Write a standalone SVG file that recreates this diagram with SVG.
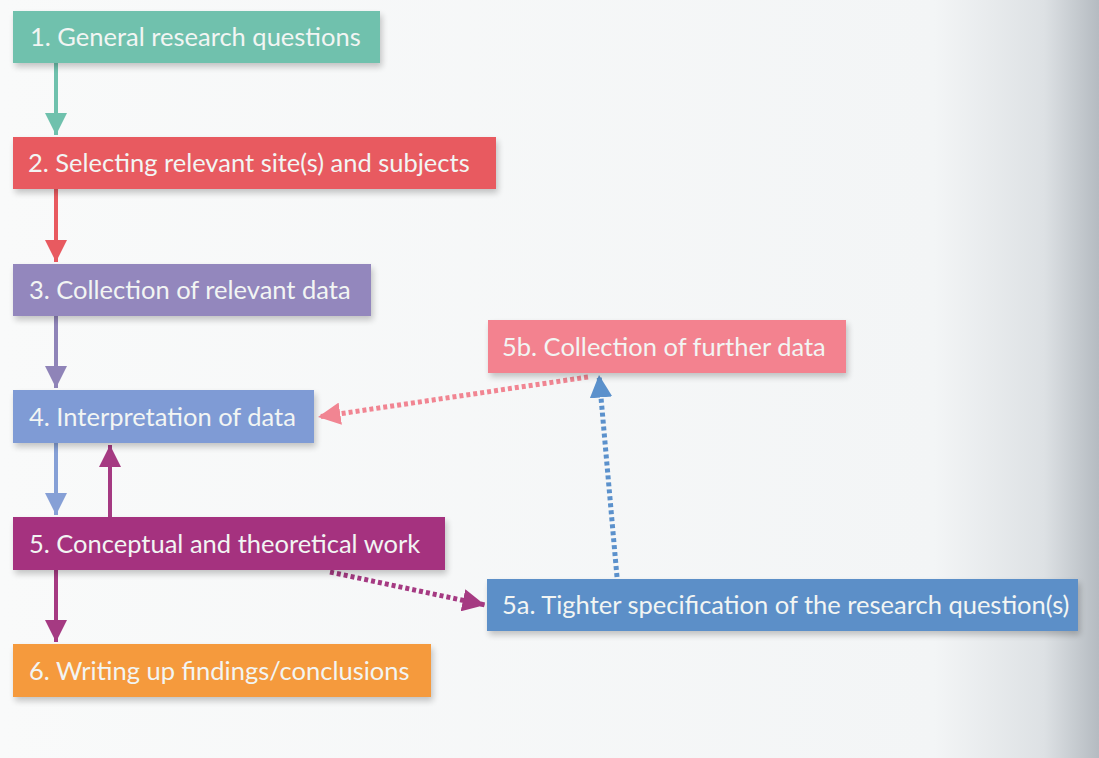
<svg xmlns="http://www.w3.org/2000/svg" width="1099" height="758" viewBox="0 0 1099 758">
<defs>
<linearGradient id="bg" x1="0" y1="0" x2="1" y2="0">
<stop offset="0" stop-color="#f9fafa"/>
<stop offset="0.85" stop-color="#f3f5f6"/>
<stop offset="0.95" stop-color="#dde1e4"/>
<stop offset="1" stop-color="#b5bbc1"/>
</linearGradient>
<filter id="sh" x="-5%" y="-20%" width="110%" height="160%">
<feGaussianBlur in="SourceAlpha" stdDeviation="3"/>
<feOffset dx="2" dy="4" result="b"/>
<feComponentTransfer><feFuncA type="linear" slope="0.22"/></feComponentTransfer>
<feMerge><feMergeNode/><feMergeNode in="SourceGraphic"/></feMerge>
</filter>
<marker id="aTeal" viewBox="0 0 10 10" refX="10" refY="5" markerWidth="5.5" markerHeight="5.5" markerUnits="strokeWidth" orient="auto"><path d="M0,0L10,5L0,10z" fill="#6fc1ad"/></marker>
<marker id="aRed" viewBox="0 0 10 10" refX="10" refY="5" markerWidth="5.5" markerHeight="5.5" markerUnits="strokeWidth" orient="auto"><path d="M0,0L10,5L0,10z" fill="#e85a60"/></marker>
<marker id="aPur" viewBox="0 0 10 10" refX="10" refY="5" markerWidth="5.5" markerHeight="5.5" markerUnits="strokeWidth" orient="auto"><path d="M0,0L10,5L0,10z" fill="#8f84b8"/></marker>
<marker id="aBlue" viewBox="0 0 10 10" refX="10" refY="5" markerWidth="5.5" markerHeight="5.5" markerUnits="strokeWidth" orient="auto"><path d="M0,0L10,5L0,10z" fill="#86a0d6"/></marker>
<marker id="aMag" viewBox="0 0 10 10" refX="10" refY="5" markerWidth="5.5" markerHeight="5.5" markerUnits="strokeWidth" orient="auto"><path d="M0,0L10,5L0,10z" fill="#a53a82"/></marker>
<marker id="aMagD" viewBox="0 0 10 10" refX="10" refY="5" markerWidth="4.5" markerHeight="4.5" markerUnits="strokeWidth" orient="auto"><path d="M0,0L10,5L0,10z" fill="#a53a82"/></marker>
<marker id="aPink" viewBox="0 0 10 10" refX="10" refY="5" markerWidth="4.5" markerHeight="4.5" markerUnits="strokeWidth" orient="auto"><path d="M0,0L10,5L0,10z" fill="#f18592"/></marker>
<marker id="aSky" viewBox="0 0 10 10" refX="10" refY="5" markerWidth="4.5" markerHeight="4.5" markerUnits="strokeWidth" orient="auto"><path d="M0,0L10,5L0,10z" fill="#5b91cc"/></marker>
</defs>
<style>
.box{filter:url(#sh)}
.t{font-family:Lato,"Open Sans","Liberation Sans",sans-serif;font-size:25.5px;fill:#f2f5f3}
.c{fill:none;stroke-width:4}
.d{fill:none;stroke-width:5;stroke-dasharray:4 3}
</style>
<rect x="0" y="0" width="1099" height="758" fill="url(#bg)"/>
<g id="connectors">
<line class="c" x1="56" y1="63" x2="56" y2="135" stroke="#6fc1ad" marker-end="url(#aTeal)"/>
<line class="c" x1="56" y1="189" x2="56" y2="262" stroke="#e85a60" marker-end="url(#aRed)"/>
<line class="c" x1="56" y1="316" x2="56" y2="388" stroke="#8f84b8" marker-end="url(#aPur)"/>
<line class="c" x1="56" y1="443" x2="56" y2="515" stroke="#86a0d6" marker-end="url(#aBlue)"/>
<line class="c" x1="110" y1="517" x2="110" y2="445" stroke="#a53a82" marker-end="url(#aMag)"/>
<line class="c" x1="56" y1="570" x2="56" y2="642" stroke="#a53a82" marker-end="url(#aMag)"/>
<line class="d" x1="588" y1="377" x2="318" y2="417" stroke="#f18592" marker-end="url(#aPink)"/>
<line class="d" x1="330" y1="572" x2="485" y2="605" stroke="#a53a82" marker-end="url(#aMagD)"/>
<line class="d" x1="617" y1="577" x2="599" y2="375" stroke="#5b91cc" marker-end="url(#aSky)"/>
</g>
<g id="n1"><rect class="box" x="13" y="11" width="367" height="52" fill="#6fc1ad"/><text class="t" x="30" y="46">1. General research questions</text></g>
<g id="n2"><rect class="box" x="13" y="137" width="483" height="52" fill="#e85a60"/><text class="t" x="28" y="172">2. Selecting relevant site(s) and subjects</text></g>
<g id="n3"><rect class="box" x="13" y="264" width="358" height="52" fill="#9387bd"/><text class="t" x="29" y="299">3. Collection of relevant data</text></g>
<g id="n4"><rect class="box" x="13" y="390" width="301" height="53" fill="#7f9bd5"/><text class="t" x="29" y="426">4. Interpretation of data</text></g>
<g id="n5"><rect class="box" x="13" y="517" width="432" height="53" fill="#a5307f"/><text class="t" x="29" y="553">5. Conceptual and theoretical work</text></g>
<g id="n6"><rect class="box" x="13" y="644" width="418" height="53" fill="#f59a3c"/><text class="t" x="29" y="680" fill="#fbefcf">6. Writing up findings/conclusions</text></g>
<g id="n5b"><rect class="box" x="488" y="320" width="358" height="53" fill="#f3828f"/><text class="t" x="502" y="356">5b. Collection of further data</text></g>
<g id="n5a"><rect class="box" x="487" y="579" width="591" height="52" fill="#5b8fc8"/><text class="t" x="502" y="614">5a. Tighter specification of the research question(s)</text></g>
</svg>
